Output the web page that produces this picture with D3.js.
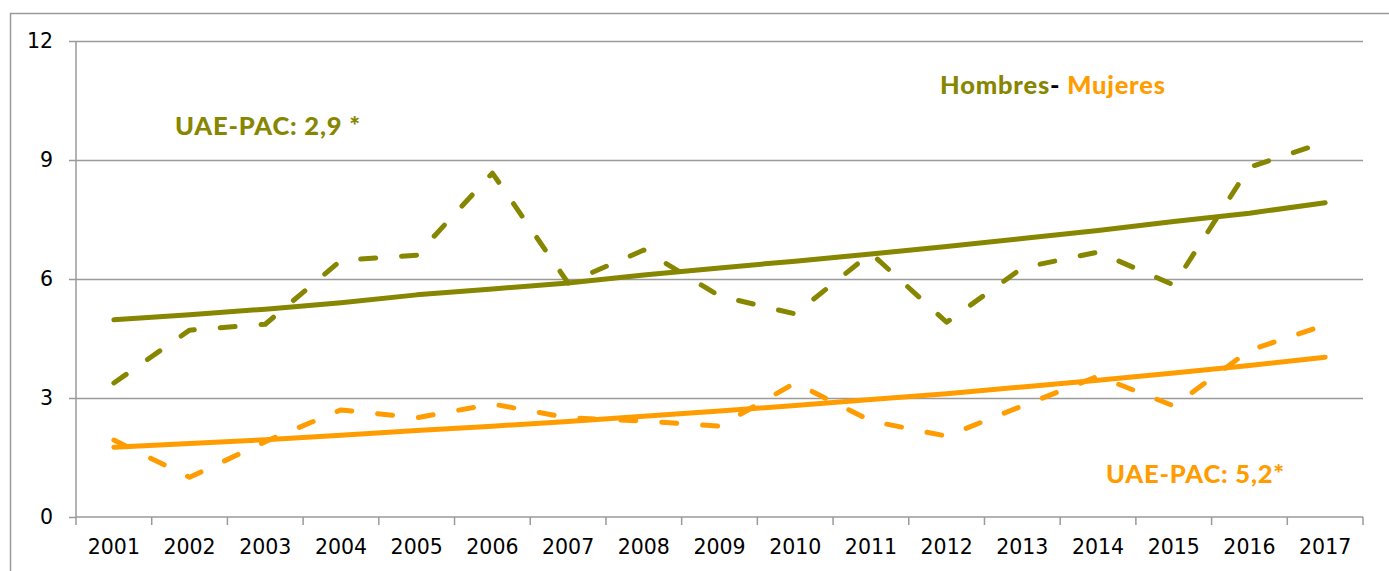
<!DOCTYPE html>
<html>
<head>
<meta charset="utf-8">
<script src="https://cdn.jsdelivr.net/npm/d3@7"></script>
<style>
  html, body { margin: 0; padding: 0; background: #fff; overflow: hidden; }
  svg { display: block; }
  .axis text { font-family: "DejaVu Sans", sans-serif; font-size: 20.5px; fill: #000; }
  .note { font-family: "Lato", sans-serif; font-weight: 900; font-size: 25.5px; letter-spacing: 0.8px; }
</style>
</head>
<body>
<svg id="chart" width="1389" height="571"></svg>
<script>
// Years on the horizontal axis
const years = ["2001","2002","2003","2004","2005","2006","2007","2008","2009",
               "2010","2011","2012","2013","2014","2015","2016","2017"];

// Observed rates (dashed) and fitted trends (solid)
const hombres      = [3.38, 4.71, 4.86, 6.47, 6.60, 8.67, 5.90, 6.73, 5.57, 5.12, 6.65, 4.91, 6.28, 6.68, 5.85, 8.82, 9.45];
const hombresTrend = [4.97, 5.10, 5.24, 5.40, 5.60, 5.75, 5.90, 6.10, 6.28, 6.45, 6.63, 6.82, 7.02, 7.22, 7.45, 7.66, 7.92];
const mujeres      = [1.94, 1.00, 1.90, 2.70, 2.50, 2.85, 2.50, 2.42, 2.29, 3.38, 2.42, 2.04, 2.80, 3.55, 2.80, 4.20, 4.84];
const mujeresTrend = [1.76, 1.85, 1.95, 2.06, 2.18, 2.29, 2.41, 2.54, 2.67, 2.81, 2.96, 3.11, 3.28, 3.45, 3.63, 3.82, 4.03];

const yTicks = [0, 3, 6, 9, 12];

const GREEN = "#868600";
const ORANGE = "#FF9C00";
const GRID = "#9a9a9a";

const svg = d3.select("#chart");
const plotL = 76, plotR = 1363, plotT = 41, plotB = 517;

// outer frame (runs past the right and bottom edges)
svg.append("rect")
  .attr("x", 10.5).attr("y", 13.5)
  .attr("width", 1400).attr("height", 600)
  .attr("fill", "none").attr("stroke", GRID).attr("stroke-width", 1.5);

const x = d3.scaleBand().domain(years).range([plotL, plotR]).paddingInner(0).paddingOuter(0);
const y = d3.scaleLinear().domain([0, 12]).range([plotB, plotT]);
const cx = d => x(d) + x.bandwidth() / 2;

// horizontal gridlines
svg.append("g")
  .attr("transform", `translate(${plotL},0)`)
  .call(d3.axisLeft(y).tickValues(yTicks.filter(v => v > 0)).tickSize(-(plotR - plotL)).tickFormat(""))
  .call(g => g.select(".domain").remove())
  .call(g => g.selectAll("line").attr("stroke", GRID).attr("stroke-width", 1.5));

// y axis
svg.append("g")
  .attr("class", "axis")
  .attr("transform", `translate(${plotL},0)`)
  .call(d3.axisLeft(y).tickValues(yTicks).tickSize(7).tickPadding(16).tickFormat(d3.format("d")))
  .call(g => g.select(".domain").attr("stroke", GRID).attr("stroke-width", 1.5).attr("d", `M0,${plotT}V${plotB}`))
  .call(g => g.selectAll("line").attr("stroke", GRID).attr("stroke-width", 1.5));

// x axis with labels at band centres and ticks at band edges
const xa = svg.append("g")
  .attr("class", "axis")
  .attr("transform", `translate(0,${plotB})`)
  .call(d3.axisBottom(x).tickSize(0).tickPadding(22))
  .call(g => g.select(".domain").attr("stroke", GRID).attr("stroke-width", 1.5).attr("d", `M${plotL},0H${plotR}`));

xa.selectAll(".edge")
  .data(years.map(d => x(d)).concat([plotR]))
  .join("line")
  .attr("class", "edge")
  .attr("x1", d => d).attr("x2", d => d)
  .attr("y1", 0).attr("y2", 8)
  .attr("stroke", GRID).attr("stroke-width", 1.5);

// series lines
const line = d3.line().x((d, i) => cx(years[i])).y(d => y(d));

function drawSeries(values, color, dashed) {
  svg.append("path")
    .datum(values)
    .attr("d", line)
    .attr("fill", "none")
    .attr("stroke", color)
    .attr("stroke-width", 5)
    .attr("stroke-linecap", "round")
    .attr("stroke-linejoin", "round")
    .attr("stroke-dasharray", dashed ? "15,26" : null);
}

drawSeries(mujeresTrend, ORANGE, false);
drawSeries(hombresTrend, GREEN, false);
drawSeries(mujeres, ORANGE, true);
drawSeries(hombres, GREEN, true);

// annotations
svg.append("text").attr("class", "note")
  .attr("x", 175).attr("y", 135).attr("fill", GREEN)
  .text("UAE-PAC: 2,9 *");

const legend = svg.append("text").attr("class", "note").attr("x", 940).attr("y", 94);
legend.append("tspan").attr("fill", GREEN).text("Hombres");
legend.append("tspan").attr("fill", "#000").text("-");
legend.append("tspan").attr("fill", ORANGE).text(" Mujeres");

svg.append("text").attr("class", "note")
  .attr("x", 1106).attr("y", 483).attr("fill", ORANGE)
  .text("UAE-PAC: 5,2*");
</script>
</body>
</html>
